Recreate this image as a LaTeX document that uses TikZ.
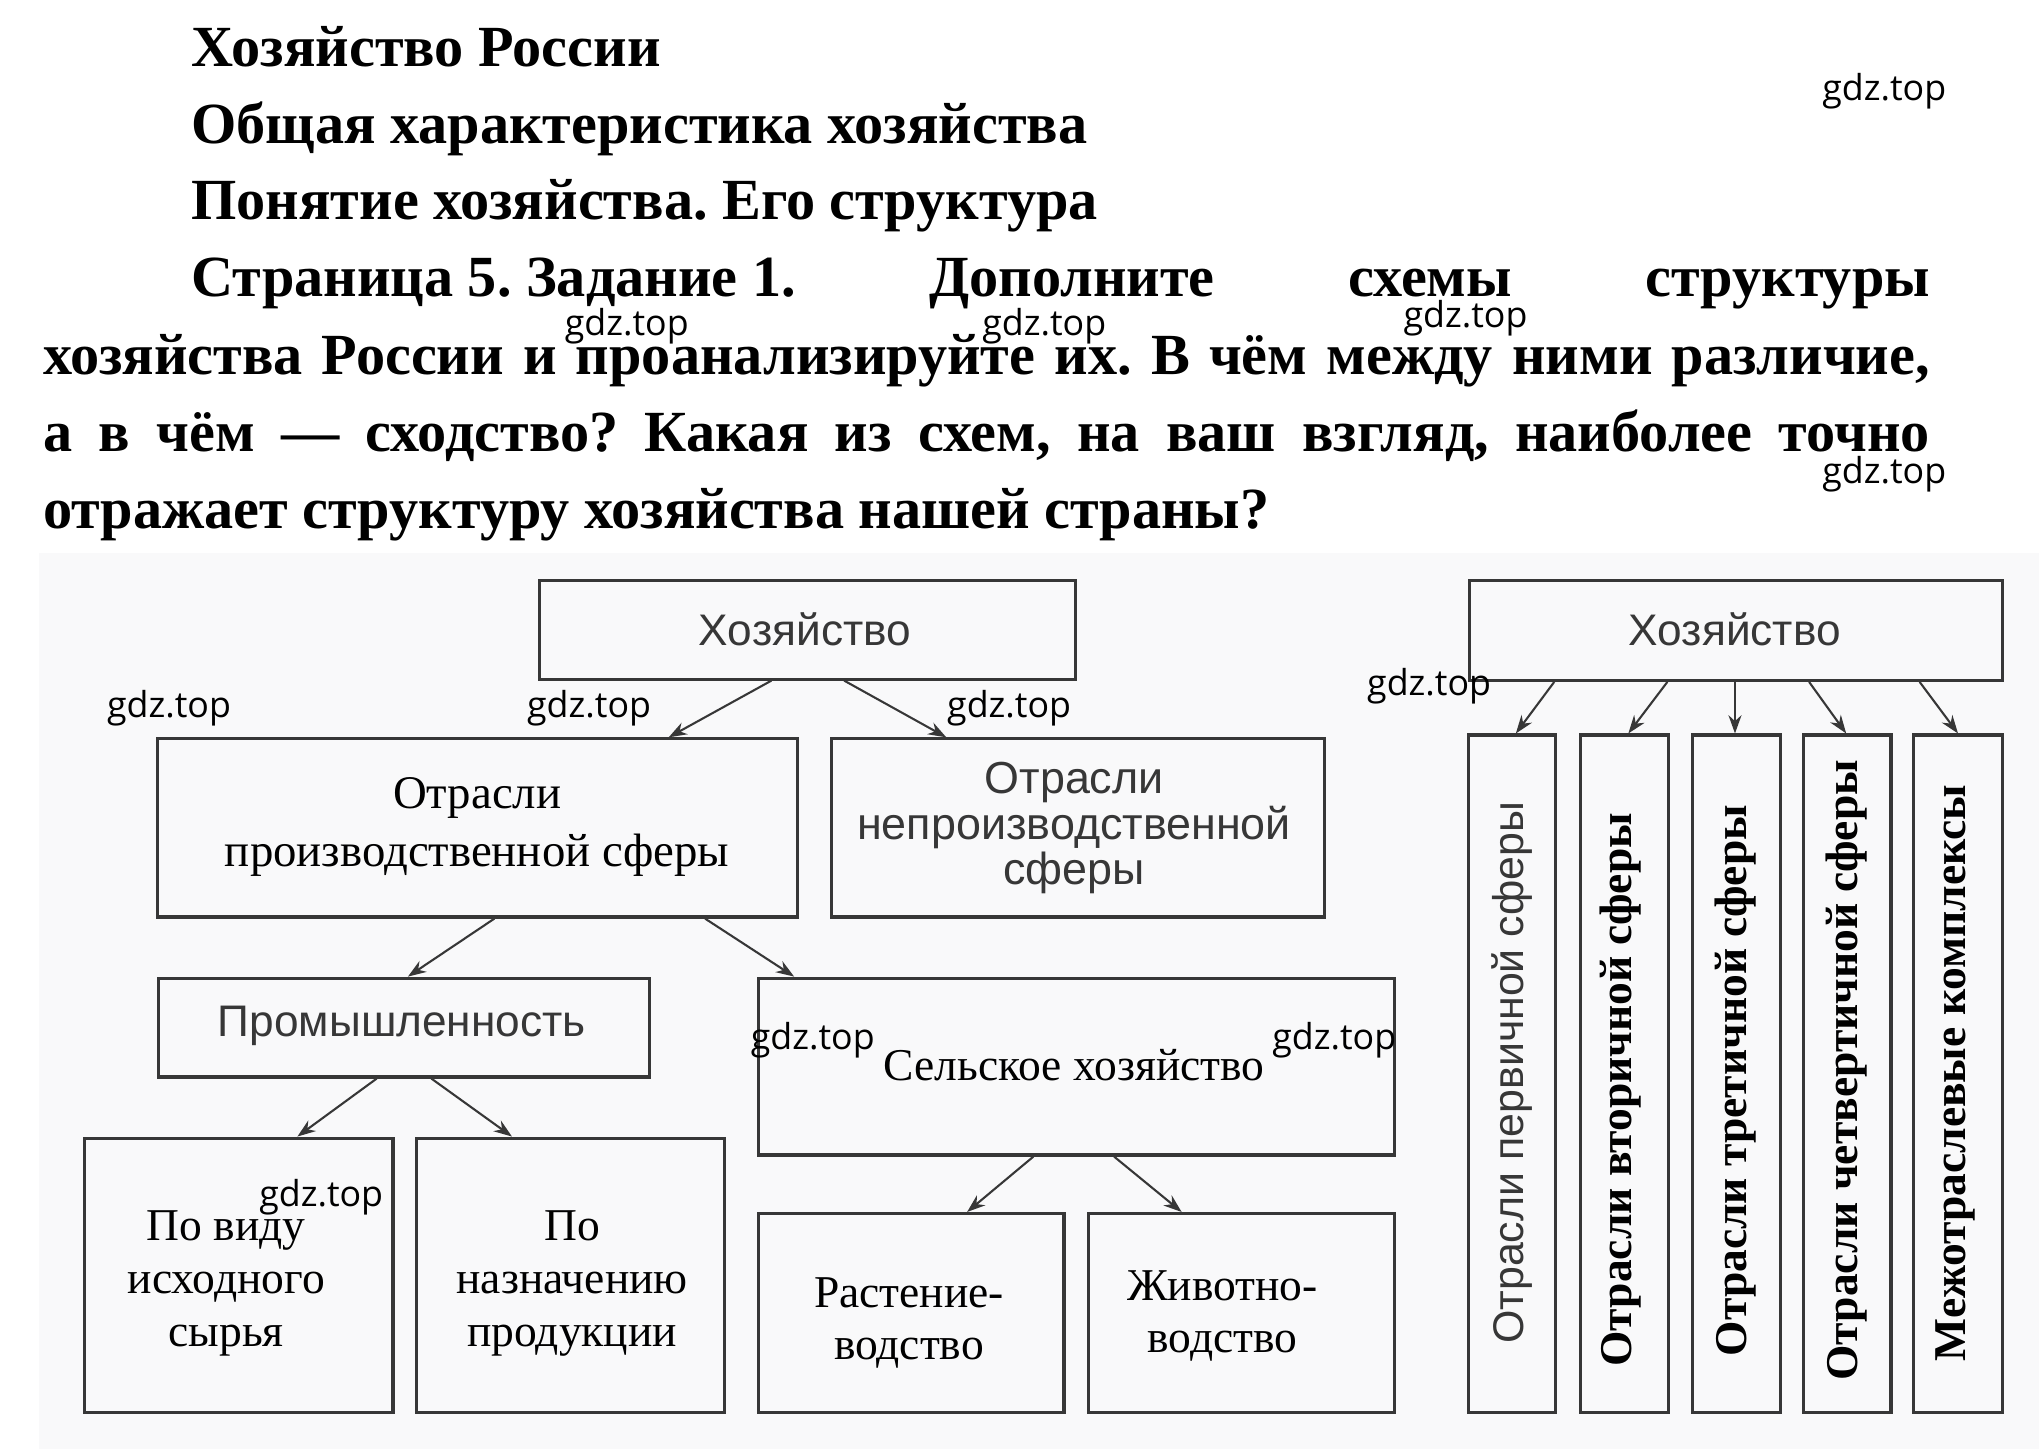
\documentclass[tikz,border=0pt]{standalone}
\usepackage{fontspec}
\setmainfont{Liberation Serif}
\newfontfamily\wmfont{Open Sans}
\newfontfamily\scanfont{Liberation Sans}
\usetikzlibrary{arrows.meta}
\frenchspacing
\definecolor{boxgray}{RGB}{55,55,55}
\definecolor{scanbg}{RGB}{249,249,250}
\tikzset{
  box/.style={draw=boxgray, line width=2.4pt, inner sep=0pt, anchor=north west},
  arr/.style={draw=boxgray, line width=1.6pt, -{Stealth[length=14pt,width=10pt]}},
  wm/.style={font=\wmfont\fontsize{27.5}{30}\selectfont, anchor=base, inner sep=0pt},
  ttl/.style={font=\fontsize{44.8}{50}\selectfont\bfseries, anchor=base west, inner sep=0pt},
  ser/.style={font=\fontsize{35}{41}\selectfont, align=center, inner sep=0pt},
  sanstext/.style={font=\scanfont\fontsize{34}{35}\selectfont, text=boxgray, align=center, inner sep=0pt},
  vbold/.style={font=\fontsize{35}{40}\selectfont\bfseries, rotate=90, inner sep=0pt},
  vsans/.style={font=\scanfont\fontsize{33}{40}\selectfont, text=boxgray, rotate=90, inner sep=0pt},
}
\begin{document}
\begin{tikzpicture}[x=1pt,y=-1pt]
\useasboundingbox (0,0) rectangle (1568,1114);
\fill[white] (0,0) rectangle (1568,1114);
\fill[scanbg] (30,425) rectangle (1568,1114);

% heading text
\node[ttl] (t1) at (147,51) {Хозяйство России};
\node[ttl] (t2) at (147,110) {Общая характеристика хозяйства};
\node[ttl] (t3) at (147,169) {Понятие хозяйства. Его структура};
\node[ttl] (t4) at (147,228) {\makebox[1337pt][s]{\mbox{Страница 5. Задание 1.} Дополните схемы структуры}};
\node[ttl] (t5) at (33,288) {\makebox[1451pt][s]{хозяйства России и проанализируйте их. В чём между ними различие,}};
\node[ttl] (t6) at (33,347.5) {\makebox[1451pt][s]{а в чём — сходство? Какая из схем, на ваш взгляд, наиболее точно}};
\node[ttl] (t7) at (33,406.5) {отражает структуру хозяйства нашей страны?};

% left scheme boxes
\node[box, minimum width=412pt, minimum height=76pt] (L1) at (414,445) {};
\node[box, minimum width=492pt, minimum height=137pt] (L2) at (120,567) {};
\node[box, minimum width=379pt, minimum height=137pt] (L3) at (638,567) {};
\node[box, minimum width=377pt, minimum height=76pt] (L4) at (121,751) {};
\node[box, minimum width=489pt, minimum height=136pt] (L5) at (582,751) {};
\node[box, minimum width=237pt, minimum height=211pt] (L6) at (64,874) {};
\node[box, minimum width=237pt, minimum height=211pt] (L7) at (319,874) {};
\node[box, minimum width=235pt, minimum height=153pt] (L8) at (582,932) {};
\node[box, minimum width=235pt, minimum height=153pt] (L9) at (836,932) {};

% right scheme boxes
\node[box, minimum width=410pt, minimum height=77pt] (R0) at (1129,445) {};
\node[box, minimum width=67pt, minimum height=521pt] (RA) at (1128,564) {};
\node[box, minimum width=68pt, minimum height=521pt] (RB) at (1214,564) {};
\node[box, minimum width=68pt, minimum height=521pt] (RC) at (1300,564) {};
\node[box, minimum width=67pt, minimum height=521pt] (RD) at (1386,564) {};
\node[box, minimum width=69pt, minimum height=521pt] (RE) at (1470,564) {};

% texts left scheme
\node[sanstext] (x1) at (619,484) {Хозяйство};
\node[ser, font=\fontsize{36}{45}\selectfont] (x2) at (367,636) {Отрасли\\производственной сферы};
\node[sanstext, font=\scanfont\fontsize{34.5}{35}\selectfont] (x3) at (826,637) {Отрасли\\непроизводственной\\сферы};
\node[sanstext] (x4) at (309,789) {Промышленность};
\node[ser] (x5) at (826,819) {Сельское хозяйство};
\node[ser] (x6) at (174,987) {По виду\\исходного\\сырья};
\node[ser] (x7) at (440,987) {По\\назначению\\продукции};
\node[ser, font=\fontsize{35}{40}\selectfont] (x8) at (699,1017) {Растение-\\водство};
\node[ser, font=\fontsize{35}{40}\selectfont] (x9) at (940,1012) {Животно-\\водство};

% texts right scheme
\node[sanstext] (y0) at (1334,484) {Хозяйство};
\node[vsans] (ya) at (1163,825) {Отрасли первичной сферы};
\node[vbold] (yb) at (1246,838) {Отрасли вторичной сферы};
\node[vbold] (yc) at (1335,831) {Отрасли третичной сферы};
\node[vbold] (yd) at (1420,823) {Отрасли четвертичной сферы};
\node[vbold] (ye) at (1504,825) {Межотраслевые комплексы};

% arrows left scheme
\draw[arr] ([xshift=-28pt]L1.south) -- ([xshift=147pt]L2.north);
\draw[arr] ([xshift=28pt]L1.south) -- ([xshift=-101pt]L3.north);
\draw[arr] ([xshift=13pt]L2.south) -- ([xshift=3pt]L4.north);
\draw[arr] ([xshift=175pt]L2.south) -- ([xshift=-217pt]L5.north);
\draw[arr] ([xshift=-21pt]L4.south) -- ([xshift=45pt]L6.north);
\draw[arr] ([xshift=21pt]L4.south) -- ([xshift=-45pt]L7.north);
\draw[arr] ([xshift=-33pt]L5.south) -- ([xshift=43pt]L8.north);
\draw[arr] ([xshift=29pt]L5.south) -- ([xshift=-46pt]L9.north);

% arrows right scheme
\draw[arr] ([xshift=-140pt]R0.south) -- ([xshift=3pt]RA.north);
\draw[arr] ([xshift=-53pt]R0.south) -- ([xshift=3pt]RB.north);
\draw[arr] ([xshift=-1pt]R0.south) -- ([xshift=-1pt]RC.north);
\draw[arr] ([xshift=56pt]R0.south) -- ([xshift=-1pt]RD.north);
\draw[arr] ([xshift=141pt]R0.south) -- (RE.north);

% watermarks
\node[wm] (w1) at (1449,77) {gdz.top};
\node[wm] (w2) at (482,258) {gdz.top};
\node[wm] (w3) at (803,258) {gdz.top};
\node[wm] (w4) at (1127,252) {gdz.top};
\node[wm] (w5) at (1449,372) {gdz.top};
\node[wm] (w6) at (130,552) {gdz.top};
\node[wm] (w7) at (453,552) {gdz.top};
\node[wm] (w8) at (776,552) {gdz.top};
\node[wm] (w9) at (1099,535) {gdz.top};
\node[wm] (w10) at (625,807) {gdz.top};
\node[wm] (w11) at (1026,807) {gdz.top};
\node[wm] (w12) at (247,928) {gdz.top};
\end{tikzpicture}
\end{document}
